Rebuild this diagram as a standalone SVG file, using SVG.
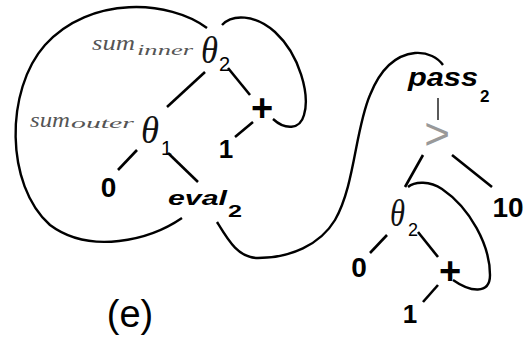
<svg xmlns="http://www.w3.org/2000/svg" width="526" height="339" viewBox="0 0 526 339">
<style>
.ln{stroke:#000;stroke-width:2.6;fill:none;stroke-linecap:butt}
.cv{stroke:#000;stroke-width:2.4;fill:none}
.thin{stroke:#000;stroke-width:1.3;fill:none}
.s{font-family:"Liberation Sans",Arial,sans-serif;fill:#000}
.d{font-family:"Liberation Sans",Arial,sans-serif;font-weight:bold;fill:#000;text-anchor:middle}
.bi{font-family:"Liberation Sans",Arial,sans-serif;font-weight:bold;font-style:italic;fill:#000}
.th{font-family:"Liberation Serif","Times New Roman",serif;font-style:italic;fill:#111}
.sm{font-family:"Liberation Serif","Times New Roman",serif;font-style:italic;fill:#555}
</style>
<rect width="526" height="339" fill="#fff"/>
<g id="connectors">
<path class="cv" d="M207,28 C170,0 90,-5 45,45 C5,90 5,185 50,225 C90,255 150,240 182,218"/>
<path class="cv" d="M222,25 C232,14 255,14 275,32 C300,55 310,95 304,115 C300,130 285,130 273,119"/>
<path class="cv" d="M217,222 C228,240 238,258 258,258 C290,258 320,245 335,220 C355,185 355,130 370,95 C380,70 395,55 415,53 C428,52 438,58 443,65"/>
<path class="cv" d="M408,187 C415,181 430,181 442,189 C470,208 490,245 490,275 C490,295 470,292 453,280"/>
<line class="ln" x1="205" y1="72" x2="167" y2="107"/>
<line class="ln" x1="228" y1="68" x2="250" y2="95"/>
<line class="ln" x1="253" y1="122" x2="235" y2="137"/>
<line class="ln" x1="137" y1="150" x2="118" y2="170"/>
<line class="ln" x1="168" y1="153" x2="198" y2="182"/>
<line class="thin" x1="438" y1="98" x2="438" y2="120"/>
<line class="ln" x1="423" y1="155" x2="405" y2="187"/>
<line class="ln" x1="452" y1="155" x2="492" y2="187"/>
<line class="ln" x1="387" y1="235" x2="370" y2="253"/>
<line class="ln" x1="418" y1="232" x2="438" y2="257"/>
<line class="ln" x1="438" y1="285" x2="423" y2="302"/>
</g>
<g id="theta2-top">
<text class="sm" x="92" y="50" font-size="22" textLength="43" lengthAdjust="spacingAndGlyphs">sum</text>
<text class="sm" x="137" y="55" font-size="14" textLength="56" lengthAdjust="spacingAndGlyphs">inner</text>
<text class="th" x="201" y="63" font-size="38" textLength="17" lengthAdjust="spacingAndGlyphs">θ</text>
<text class="s" x="219" y="71" font-size="20">2</text>
</g>
<g id="plus-top"><text class="s" x="262" y="121" font-size="38" font-weight="bold" text-anchor="middle">+</text></g>
<g id="one-top"><text class="d" x="226" y="158" font-size="26">1</text></g>
<g id="theta1">
<text class="sm" x="30" y="127" font-size="22" textLength="40" lengthAdjust="spacingAndGlyphs">sum</text>
<text class="sm" x="71" y="128" font-size="14" textLength="63" lengthAdjust="spacingAndGlyphs">outer</text>
<text class="th" x="141" y="143" font-size="38" textLength="18" lengthAdjust="spacingAndGlyphs">θ</text>
<text class="s" x="161" y="155" font-size="20">1</text>
</g>
<g id="zero-left"><text class="d" x="108.5" y="197" font-size="28">0</text></g>
<g id="eval2">
<text class="bi" x="168" y="205" font-size="21" textLength="59" lengthAdjust="spacingAndGlyphs">eval</text>
<text class="s" x="228" y="217" font-size="17" font-weight="bold" textLength="14" lengthAdjust="spacingAndGlyphs">2</text>
</g>
<g id="pass2">
<text class="bi" x="408" y="86" font-size="25" textLength="70" lengthAdjust="spacingAndGlyphs">pass</text>
<text class="s" x="480" y="102" font-size="17" font-weight="bold">2</text>
</g>
<g id="gt"><text class="s" x="437" y="149" font-size="44" text-anchor="middle" style="fill:#999">&gt;</text></g>
<g id="ten"><text class="d" x="508" y="217" font-size="28">10</text></g>
<g id="theta2-low">
<text class="th" x="390" y="226" font-size="38" textLength="15" lengthAdjust="spacingAndGlyphs">θ</text>
<text class="s" x="408" y="236" font-size="18">2</text>
</g>
<g id="zero-low"><text class="d" x="359" y="277" font-size="28">0</text></g>
<g id="plus-low"><text class="s" x="450" y="284" font-size="38" font-weight="bold" text-anchor="middle">+</text></g>
<g id="one-low"><text class="d" x="410" y="323" font-size="26">1</text></g>
<g id="caption"><text class="s" x="130" y="327" font-size="38" text-anchor="middle">(e)</text></g>
</svg>
